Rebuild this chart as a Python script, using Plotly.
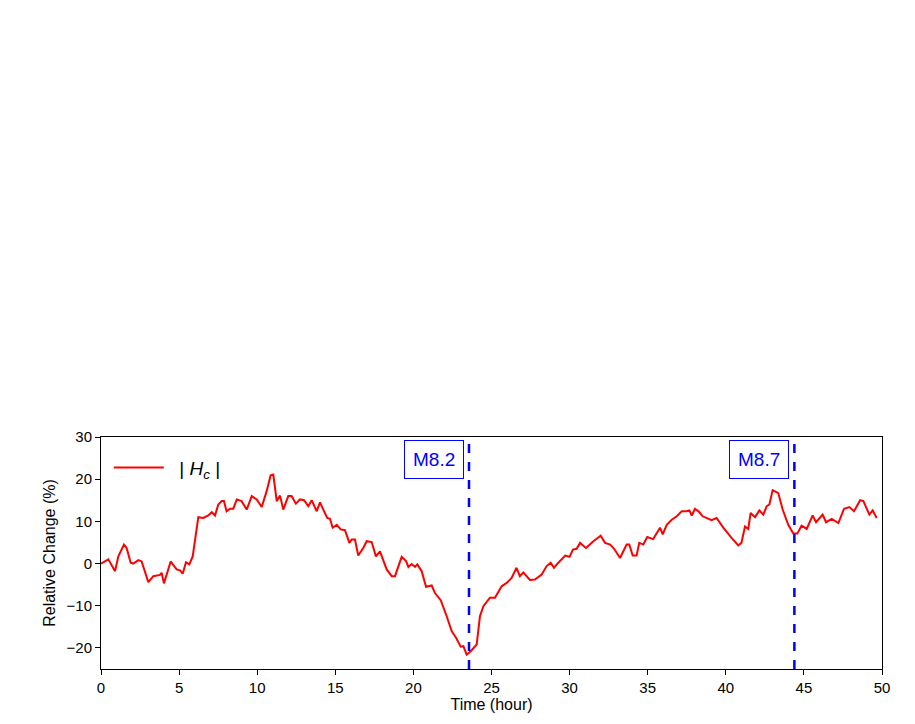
import plotly.graph_objects as go

# Time (hour) and relative change (%)
time_h = [0, 0.47, 0.9, 1.11, 1.47, 1.64, 1.9, 2.07, 2.39, 2.6, 3.03, 3.35, 3.78, 3.88, 4.03,
          4.46, 4.84, 5.06, 5.23, 5.44, 5.66, 5.87, 6.23, 6.55, 6.87, 7.09, 7.3, 7.51, 7.73,
          7.87, 8.04, 8.26, 8.47, 8.69, 9.0, 9.33, 9.65, 9.97, 10.29, 10.6, 10.86, 11.03,
          11.25, 11.46, 11.67, 11.99, 12.2, 12.48, 12.74, 13.0, 13.27, 13.49, 13.81, 14.02,
          14.28, 14.49, 14.66, 14.83, 15.09, 15.35, 15.62, 15.9, 16.05, 16.26, 16.47, 16.79,
          17.01, 17.33, 17.6, 17.86, 18.29, 18.61, 18.82, 19.25, 19.53, 19.68, 19.89, 20.1,
          20.25, 20.53, 20.81, 21.17, 21.38, 21.75, 22.13, 22.45, 22.73, 23.03, 23.2, 23.41,
          23.67, 24.05, 24.26, 24.48, 24.9, 25.22, 25.65, 25.97, 26.29, 26.6, 26.82, 27.04,
          27.46, 27.78, 28.21, 28.53, 28.79, 29.0, 29.28, 29.72, 30.0, 30.21, 30.45, 30.67,
          31.05, 31.52, 31.99, 32.27, 32.6, 32.85, 33.23, 33.65, 33.82, 34.04, 34.29, 34.46,
          34.72, 34.97, 35.35, 35.79, 35.96, 36.22, 36.54, 36.86, 37.18, 37.5, 37.67, 37.82,
          38.03, 38.3, 38.52, 38.77, 39.09, 39.41, 39.84, 40.37, 40.8, 41.0, 41.23, 41.44,
          41.59, 41.87, 42.15, 42.4, 42.62, 42.79, 43.0, 43.36, 43.64, 44.0, 44.32, 44.58,
          44.85, 45.18, 45.56, 45.78, 46.2, 46.42, 46.78, 47.21, 47.57, 47.91, 48.21, 48.6,
          48.81, 49.19, 49.4, 49.66]
rel_change = [0, 1, -1.8, 1.7, 4.5, 3.7, 0.2, 0, 0.8, 0.5, -4.4, -3, -2.7, -2.2, -4.7,
              0.5, -1.4, -1.6, -2.4, 0.3, -0.2, 1.7, 11, 10.8, 11.4, 12.2, 11.4, 14, 14.8,
              14.8, 12.4, 13, 13, 15.2, 14.8, 12.8, 16, 15.2, 13.4, 17.1, 20.9, 21.1,
              14.8, 16.1, 12.8, 16, 16, 14.2, 15.2, 15, 13.6, 15, 12.4, 14.5,
              12.4, 10.8, 10.6, 8.5, 9.2, 8.1, 7.9, 4.9, 5.7, 5.7, 1.9, 3.7,
              5.3, 5.1, 1.7, 2.9, -1.4, -3, -3, 1.6, 0.6, -0.8, -0.1, -0.8,
              -0.2, -1.8, -5.5, -5.2, -7, -8.7, -12.5, -16, -17.6, -19.7, -19.6, -21.6,
              -20.8, -19.2, -12.5, -10.1, -8.1, -8.1, -5.4, -4.6, -3.4, -1, -3, -2.1,
              -3.9, -3.8, -2.6, -0.6, 0.2, -1, 0.2, 1.9, 1.6, 3.3, 3.5, 4.9,
              3.7, 5.3, 6.6, 4.9, 4.5, 3.5, 1.3, 4.5, 4.5, 1.9, 1.9, 4.9,
              4.5, 6.3, 5.8, 8.5, 6.9, 9.2, 10.4, 11.2, 12.4, 12.4, 12.6, 11.4,
              13, 12.2, 11.2, 10.8, 10.3, 10.8, 8.5, 6.1, 4.3, 4.9, 8.8, 8.2,
              12, 11, 12.6, 11.6, 13.6, 14, 17.4, 16.7, 12.8, 9.2, 7.1, 7.1,
              9, 8.2, 11.4, 9.8, 11.6, 9.8, 10.6, 9.6, 13, 13.4, 12.4, 15,
              14.8, 11.6, 12.6, 10.8]

quake_times = [23.56, 44.39]
quake_labels = ["M8.2", "M8.7"]

fig = go.Figure()
fig.add_trace(go.Scatter(x=time_h, y=rel_change, mode="lines",
                         line=dict(color="red", width=2),
                         name="  | <i>H</i><sub><i>c</i></sub> |"))

for t, lab in zip(quake_times, quake_labels):
    fig.add_vline(x=t, line=dict(color="blue", width=2.5, dash="dash"))
    fig.add_annotation(x=t, y=0.985, xref="x", yref="paper", text=lab, showarrow=False,
                       xanchor="right", yanchor="top", xshift=-5,
                       font=dict(color="blue", size=19),
                       bordercolor="blue", borderwidth=1, borderpad=8, bgcolor="white")

axis_style = dict(showline=True, linecolor="black", mirror=True, ticks="outside",
                  ticklen=5, tickcolor="black", showgrid=False, zeroline=False,
                  tickfont=dict(size=15))
fig.update_xaxes(range=[0, 50], dtick=5,
                 title=dict(text="Time (hour)", standoff=2, font=dict(size=16)),
                 **axis_style)
fig.update_yaxes(range=[-25, 30], tickvals=[-20, -10, 0, 10, 20, 30],
                 title=dict(text="Relative Change (%)", standoff=6, font=dict(size=16)),
                 **axis_style)
fig.update_layout(width=915, height=724, plot_bgcolor="white", paper_bgcolor="white",
                  margin=dict(l=93, r=41, t=429, b=63),
                  font=dict(family="Liberation Sans, Arial", size=16, color="black"),
                  showlegend=True,
                  legend=dict(x=0.01, y=0.95, xanchor="left", yanchor="top",
                              bgcolor="rgba(0,0,0,0)", font=dict(size=19),
                              itemwidth=50))
fig.write_html("out.html")
